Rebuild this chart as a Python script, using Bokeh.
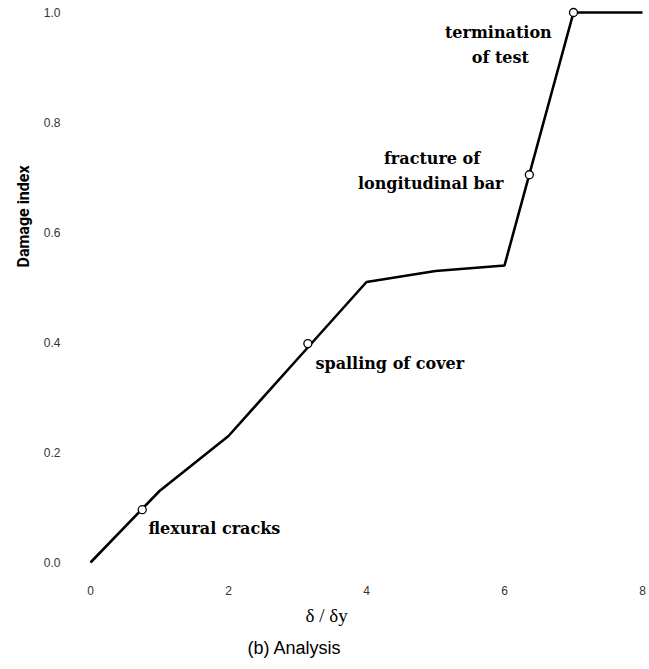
from bokeh.plotting import figure
from bokeh.models import Range1d, FixedTicker, Label, NumeralTickFormatter, Title
from bokeh.embed import file_html
from bokeh.resources import INLINE

# data
ductility = [0, 1, 2, 3, 4, 5, 6, 7, 8]
damage = [0.0, 0.13, 0.23, 0.37, 0.51, 0.53, 0.54, 1.0, 1.0]

event_x = [0.75, 3.15, 6.36, 7.0]
event_y = [0.096, 0.398, 0.705, 1.0]

x_ticks = [0, 2, 4, 6, 8]
y_ticks = [0.0, 0.2, 0.4, 0.6, 0.8, 1.0]

p = figure(width=649, height=669, output_backend="svg", toolbar_location=None,
           x_range=Range1d(-10/69, 8 + 3/69), y_range=Range1d(-13/550, 1 + 7/550),
           min_border_left=80, min_border_right=4, min_border_top=5, min_border_bottom=94)

p.grid.visible = False
p.outline_line_color = None
p.background_fill_color = "white"

for ax in (p.xaxis[0], p.yaxis[0]):
    ax.axis_line_color = None
    ax.major_tick_line_color = None
    ax.minor_tick_line_color = None
    ax.major_tick_out = 0
    ax.major_tick_in = 0
    ax.major_label_text_font = "Liberation Sans"
    ax.major_label_text_font_size = "12px"
    ax.major_label_text_color = "#333333"

p.xaxis.ticker = FixedTicker(ticks=x_ticks)
p.yaxis.ticker = FixedTicker(ticks=y_ticks)
p.yaxis.formatter = NumeralTickFormatter(format="0.0")
p.yaxis.major_label_standoff = 20
p.xaxis.major_label_standoff = 10

p.line(ductility, damage, line_color="black", line_width=2.6)
p.scatter(event_x, event_y, size=8, fill_color="white", line_color="black", line_width=1.3)

def lab(x, y, text, align="left"):
    p.add_layout(Label(x=x, y=y, text=text, text_align=align, text_baseline="middle",
                       text_font="DejaVu Serif", text_font_size="16px", text_font_style="bold",
                       text_color="black"))

lab(0.84, 0.061, "flexural cracks")
lab(3.26, 0.362, "spalling of cover")
lab(4.95, 0.735, "fracture of", align="center")
lab(4.93, 0.689, "longitudinal bar", align="center")
lab(5.91, 0.964, "termination", align="center")
lab(5.94, 0.918, "of test", align="center")

# y-axis title
p.add_layout(Title(text="Damage index", align="left", offset=308, standoff=16,
                   text_font="Roboto", text_font_size="16px",
                   text_font_style="bold", text_color="black"), "left")
# x-axis title
p.add_layout(Title(text="δ / δy", align="left", offset=225, standoff=10,
                   text_font="Liberation Serif", text_font_size="19px",
                   text_font_style="normal", text_color="black"), "below")
# caption
p.add_layout(Title(text="(b)  Analysis", align="left", offset=167, standoff=10,
                   text_font="Liberation Sans", text_font_size="18px",
                   text_font_style="normal", text_color="black"), "below")

open("out.html", "w").write(file_html(p, INLINE))
